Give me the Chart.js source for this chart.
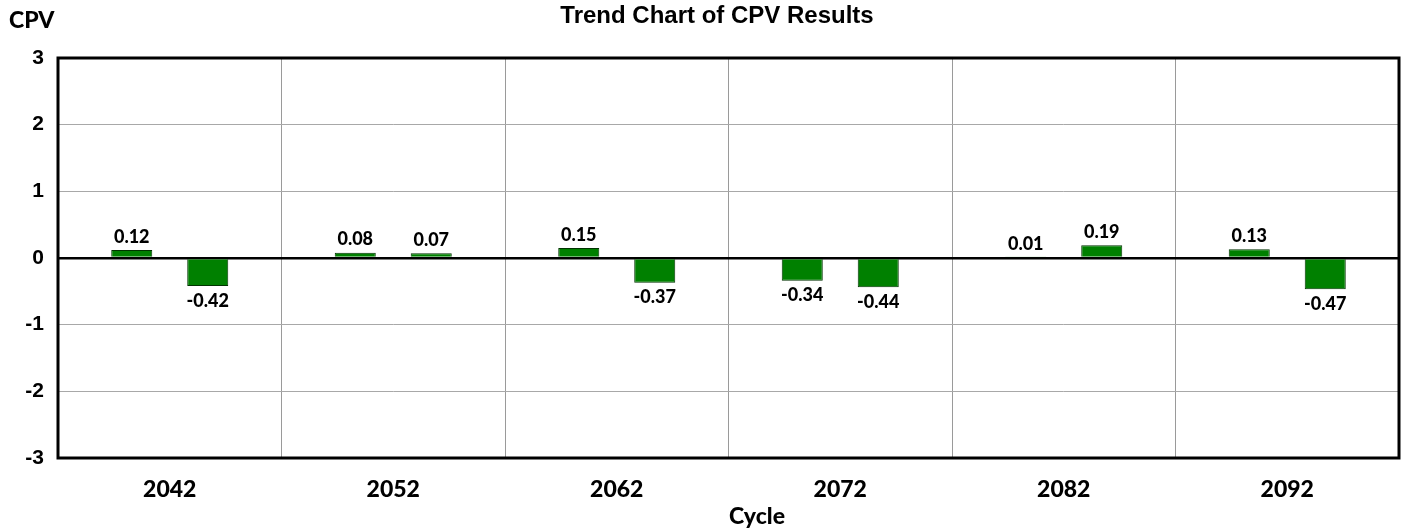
<!DOCTYPE html>
<html>
<head>
<meta charset="utf-8">
<script src="https://cdn.jsdelivr.net/npm/chart.js@4.4.1/dist/chart.umd.min.js"></script>
<style>
html,body{margin:0;padding:0;background:#fff;}
#wrap{width:1403px;height:529px;position:relative;}
</style>
</head>
<body>
<div id="wrap"><canvas id="c" width="1403" height="529"></canvas></div>
<script>
const categories = ['2042', '2052', '2062', '2072', '2082', '2092'];
const seriesA = [0.12, 0.08, 0.15, -0.34, 0.01, 0.13];
const seriesB = [-0.42, 0.07, -0.37, -0.44, 0.19, -0.47];
const yTicks = [-3, -2, -1, 0, 1, 2, 3];
const chartTitle = 'Trend Chart of CPV Results';
const yAxisTitle = 'CPV';
const xAxisTitle = 'Cycle';

const GEO = 'Lato, "Noto Sans", sans-serif';
const ARIAL = '"Liberation Sans", Arial, sans-serif';

const decorPlugin = {
  id: 'decor',
  afterDraw(chart) {
    const ctx = chart.ctx;
    const a = chart.chartArea;
    ctx.save();
    ctx.strokeStyle = '#000';
    ctx.lineWidth = 3;
    ctx.strokeRect(a.left, a.top, a.right - a.left, a.bottom - a.top);
    ctx.fillStyle = '#000';
    ctx.textBaseline = 'alphabetic';
    ctx.textAlign = 'center';
    ctx.font = 'bold 24px ' + ARIAL;
    ctx.fillText(chartTitle, 717, 23);
    ctx.textAlign = 'left';
    ctx.font = '900 23px ' + GEO;
    ctx.fillText(yAxisTitle, 9, 28);
    ctx.textAlign = 'center';
    ctx.fillText(xAxisTitle, 757, 524);
    ctx.restore();
  },
  afterDatasetsDraw(chart) {
    const ctx = chart.ctx;
    ctx.save();
    ctx.fillStyle = '#000';
    ctx.font = '900 18px ' + GEO;
    ctx.textAlign = 'center';
    chart.data.datasets.forEach((ds, di) => {
      const meta = chart.getDatasetMeta(di);
      meta.data.forEach((el, i) => {
        const v = ds.data[i];
        const txt = v.toFixed(2);
        if (v >= 0) {
          ctx.textBaseline = 'bottom';
          ctx.fillText(txt, el.x, Math.min(el.y, el.base) - 4);
        } else {
          ctx.textBaseline = 'top';
          ctx.fillText(txt, el.x, Math.max(el.y, el.base) + 6);
        }
      });
    });
    ctx.restore();
  }
};

new Chart(document.getElementById('c'), {
  type: 'bar',
  data: {
    labels: categories,
    datasets: [
      { label: 'A', data: seriesA, backgroundColor: '#008000', borderColor: '#003300', borderWidth: 1,
        categoryPercentage: 0.68, barPercentage: 0.54 },
      { label: 'B', data: seriesB, backgroundColor: '#008000', borderColor: '#003300', borderWidth: 1,
        categoryPercentage: 0.68, barPercentage: 0.54 }
    ]
  },
  options: {
    responsive: false,
    animation: false,
    layout: { padding: { left: 0, right: 4, top: 58, bottom: 0 } },
    plugins: { legend: { display: false }, title: { display: false }, tooltip: { enabled: false } },
    scales: {
      x: {
        grid: { offset: true, drawTicks: false, color: '#9a9a9a', lineWidth: 1 },
        border: { display: false },
        ticks: { color: '#000', font: { family: GEO, weight: '900', size: 23 }, padding: 18, maxRotation: 0 },
        afterFit(s) { s.height = 71; }
      },
      y: {
        min: -3, max: 3,
        afterBuildTicks(s) { s.ticks = yTicks.map(v => ({ value: v })); },
        grid: {
          drawTicks: false,
          color: c => (c.tick && c.tick.value === 0) ? '#000' : '#a8a8a8',
          lineWidth: c => (c.tick && c.tick.value === 0) ? 2.5 : 1
        },
        border: { display: false },
        ticks: { color: '#000', font: { family: ARIAL, weight: 'bold', size: 21 }, padding: 14 },
        afterFit(s) { s.width = 58; }
      }
    }
  },
  plugins: [decorPlugin]
});
</script>
</body>
</html>
